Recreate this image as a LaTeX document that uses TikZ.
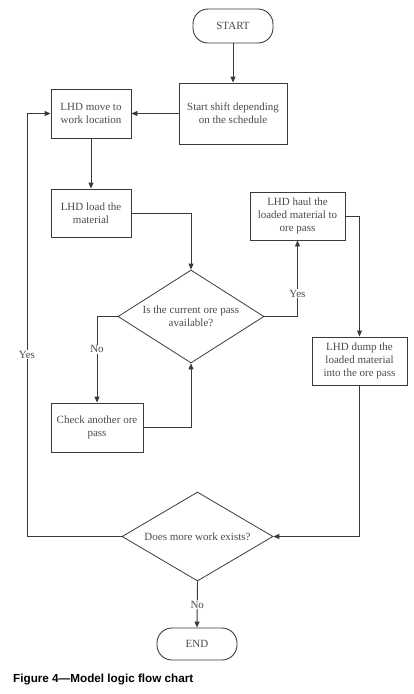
\documentclass[tikz,border=0pt]{standalone}
\usepackage{fontspec}
\setmainfont{Liberation Serif}
\newfontfamily\capfont{Liberation Sans}
\usetikzlibrary{shapes.geometric,arrows.meta}
\definecolor{ln}{HTML}{3A3A3A}
\definecolor{tx}{HTML}{4A4A4A}
\begin{document}
\begin{tikzpicture}[x=1pt,y=-1pt,
  every node/.style={font=\fontsize{11}{12.7}\selectfont, text=tx},
  box/.style={draw=ln, line width=0.9pt, align=center, inner sep=1pt},
  term/.style={box, rounded corners=15pt},
  dec/.style={draw=ln, line width=0.8pt, shape=diamond, align=center, inner sep=0pt},
  conn/.style={draw=ln, line width=0.9pt},
  arr/.style={conn, -{Triangle[length=6pt,width=5pt]}},
  lab/.style={fill=white, inner sep=1pt}]
\useasboundingbox (0,0) rectangle (413,694);
\node[term, minimum width=80, minimum height=34] (start) at (233,26) {START};
\node[box, minimum width=108, minimum height=61] (shift) at (233,113.5) {Start shift depending\\on the schedule};
\node[box, minimum width=80, minimum height=49] (move) at (91,113.5) {LHD move to\\work location};
\node[box, minimum width=80, minimum height=48] (load) at (91,213) {LHD load the\\material};
\node[box, minimum width=95, minimum height=48] (haul) at (297.5,216) {LHD haul the\\loaded material to\\ore pass};
\node[dec, minimum width=146, minimum height=93, shape aspect=1.57] (d1) at (191,316.5) {Is the current ore pass\\available?};
\node[box, minimum width=92, minimum height=49] (check) at (97,427.5) {Check another ore\\pass};
\node[box, minimum width=95, minimum height=48] (dump) at (359.5,361) {LHD dump the\\loaded material\\into the ore pass};
\node[dec, minimum width=151, minimum height=89, shape aspect=1.7] (d2) at (197.5,536.5) {Does more work exists?};
\node[term, minimum width=80, minimum height=32] (end) at (197,644) {END};
\coordinate (loop) at (27,113.5);
\node[font=\capfont\bfseries\fontsize{11.7}{14}\selectfont, text=black, anchor=west, inner sep=0pt] (cap) at (13,679) {Figure 4—Model logic flow chart};

\draw[arr] (start) -- (shift);
\draw[arr] (shift) -- (move);
\draw[arr] (move) -- (load);
\draw[arr] (load.east) -| (d1.north);
\draw[arr] (d1.east) -| node[lab, pos=0.65] {Yes} (haul.south);
\draw[arr] (haul.east) -| (dump.north);
\draw[arr] (d1.west) -| node[lab, pos=0.69] {No} (check.north);
\draw[arr] (check.east) -| (d1.south);
\draw[arr] (dump.south) |- (d2.east);
\draw[arr] (d2.west) -| node[lab, pos=0.715] {Yes} (loop) -- (move.west);
\draw[arr] (d2.south) -- node[lab] {No} (end.north);
\end{tikzpicture}
\end{document}
